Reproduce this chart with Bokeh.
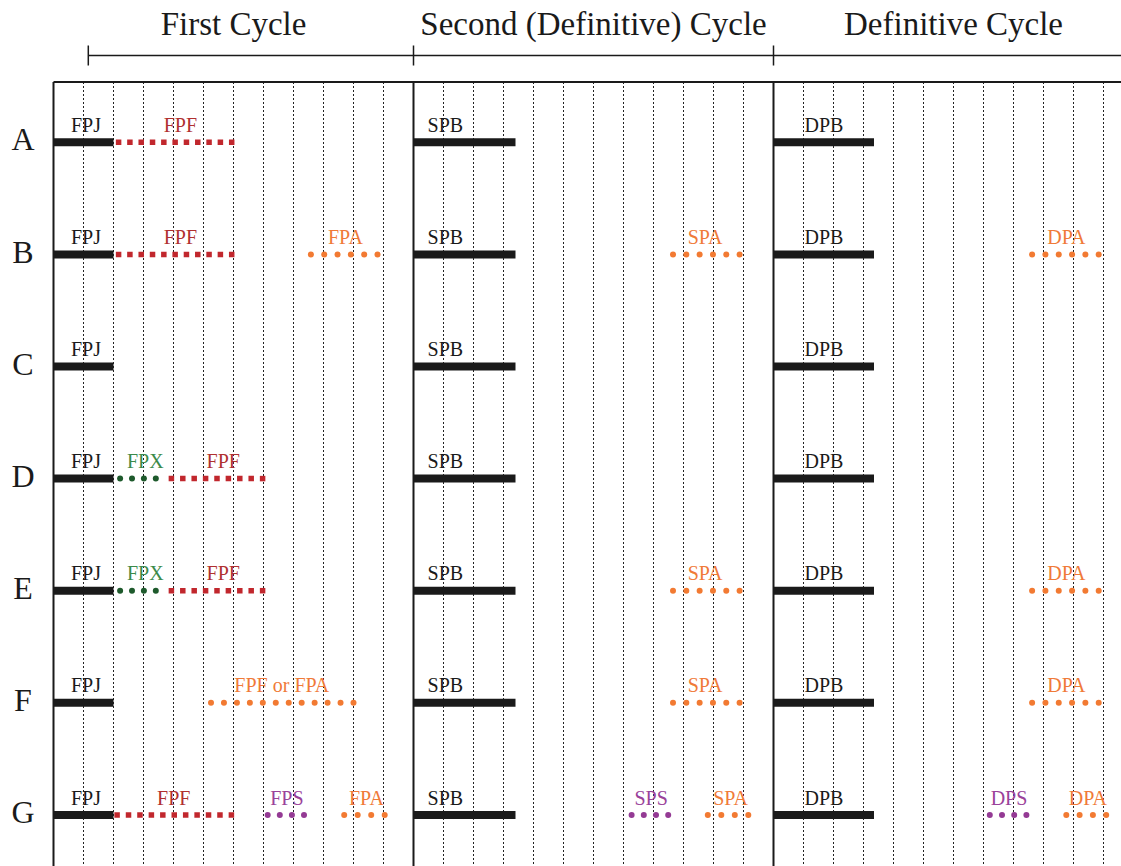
import numpy as np
from bokeh.plotting import figure
from bokeh.models import Range1d
from bokeh.core.properties import value
from bokeh.embed import file_html
from bokeh.resources import INLINE

# ---------------- data ----------------
rows = ["A", "B", "C", "D", "E", "F", "G"]
cycle_titles = ["First Cycle", "Second (Definitive) Cycle", "Definitive Cycle"]
cycle_starts = [0, 12, 24]
cycle_len = 12
bracket_start = 1.16
n_units = 36

# each segment: row index, name, start, end (month units), label centre, kind
seg_row = []
seg_name = []
seg_start = []
seg_end = []
seg_lx = []
seg_kind = []


def add(r, name, s, e, lx, kind):
    seg_row.append(r); seg_name.append(name); seg_start.append(s)
    seg_end.append(e); seg_lx.append(lx); seg_kind.append(kind)


fpj = ("FPJ", 0.0, 2.0, 1.08, "bar")
spb = ("SPB", 12.0, 15.4, 13.06, "bar")
dpb = ("DPB", 24.0, 27.35, 25.68, "bar")
spa = ("SPA", 20.65, 22.87, 21.72, "adult")
dpa = ("DPA", 32.62, 34.84, 33.76, "adult")

# A
for s in (fpj, ("FPF", 2.17, 5.94, 4.23, "fall"), spb, dpb):
    add(0, *s)
# B
for s in (fpj, ("FPF", 2.17, 5.94, 4.23, "fall"), ("FPA", 8.58, 10.80, 9.73, "adult"), spb, spa, dpb, dpa):
    add(1, *s)
# C
for s in (fpj, spb, dpb):
    add(2, *s)
# D
for s in (fpj, ("FPX", 2.22, 3.41, 3.06, "ext"), ("FPF", 3.93, 6.97, 5.66, "fall"), spb, dpb):
    add(3, *s)
# E
for s in (fpj, ("FPX", 2.22, 3.41, 3.06, "ext"), ("FPF", 3.93, 6.97, 5.66, "fall"), spb, spa, dpb, dpa):
    add(4, *s)
# F
for s in (fpj, ("FPF or FPA", 5.25, 10.0, 7.61, "adult"), spb, spa, dpb, dpa):
    add(5, *s)
# G
for s in (fpj, ("FPF", 2.12, 5.93, 4.01, "fall"), ("FPS", 7.14, 8.35, 7.78, "supp"),
          ("FPA", 9.69, 11.04, 10.43, "adult"), spb,
          ("SPS", 19.27, 20.49, 19.92, "supp"), ("SPA", 21.81, 23.16, 22.57, "adult"), dpb,
          ("DPS", 31.21, 32.43, 31.85, "supp"), ("DPA", 33.76, 35.09, 34.48, "adult")):
    add(6, *s)

# ---------------- styles ----------------
BLACK = "#1a1a1a"
mark_color = {"bar": BLACK, "fall": "#c1272d", "ext": "#1e5a2c", "adult": "#f27a32", "supp": "#943a94"}
text_color = {"bar": BLACK, "fall": "#b0302f", "ext": "#3b8a4a", "adult": "#f07a38", "supp": "#9a429a"}
FONT = value("Liberation Serif")

# geometry: page px -> data units (figure drawn from the page origin)
PX_X0, PX_PER_UNIT = 53.0, 30.0
ROW0_PX, ROW_PX = 141.8, 112.1
W, H = 1121, 866


def ypx(px):
    return (px - ROW0_PX) / ROW_PX


def text_y(baseline_px, fs):
    # correction for where the renderer puts an alphabetic baseline
    return ypx(baseline_px - 0.37 * fs)


x_lo = (0 - PX_X0) / PX_PER_UNIT
x_hi = (W - PX_X0) / PX_PER_UNIT
y_top = ypx(0)
y_bot = ypx(H)

p = figure(width=W, height=H, x_range=Range1d(x_lo, x_hi), y_range=Range1d(y_bot, y_top),
           x_axis_type=None, y_axis_type=None, toolbar_location=None,
           output_backend="svg", min_border=0)
p.grid.visible = False
p.outline_line_color = None
p.background_fill_color = "white"
p.border_fill_color = "white"

frame_top = ypx(81.5)

# dotted month grid
gx = [k for k in range(1, n_units) if k % cycle_len != 0]
p.segment(x0=gx, y0=[frame_top] * len(gx), x1=gx, y1=[y_bot] * len(gx),
          line_color="#222222", line_width=1, line_dash="2 2")

# frame: top line, cycle boundaries
p.segment(x0=[0], y0=[frame_top], x1=[x_hi + 1], y1=[frame_top], line_color=BLACK, line_width=2)
p.segment(x0=cycle_starts, y0=[frame_top] * 3, x1=cycle_starts, y1=[y_bot] * 3,
          line_color=BLACK, line_width=2)

# header bracket
hy = ypx(55)
p.segment(x0=[bracket_start], y0=[hy], x1=[x_hi + 1], y1=[hy], line_color=BLACK, line_width=1.5)
tick_x = [bracket_start] + cycle_starts[1:]
p.segment(x0=tick_x, y0=[ypx(45)] * 3, x1=tick_x, y1=[ypx(65)] * 3, line_color=BLACK, line_width=1.5)
p.text(x=[s + cycle_len / 2 for s in cycle_starts], y=[text_y(35.5, 33)] * 3, text=cycle_titles,
       text_font=FONT, text_font_size="33px", text_color=BLACK,
       text_align="center", text_baseline="alphabetic")

# row letters
p.text(x=[(22.5 - PX_X0) / PX_PER_UNIT] * len(rows),
       y=[text_y(ROW0_PX + i * ROW_PX + 9, 32) for i in range(len(rows))],
       text=rows, text_font=FONT, text_font_size="32px", text_color=BLACK,
       text_align="center", text_baseline="alphabetic")

# segments
for r, name, s, e, lx, kind in zip(seg_row, seg_name, seg_start, seg_end, seg_lx, seg_kind):
    c = mark_color[kind]
    if kind == "bar":
        p.segment(x0=[s], y0=[r], x1=[e], y1=[r], line_color=c, line_width=8, line_cap="butt")
    elif kind == "fall":
        n = int(round((e - s) / 0.39)) + 1
        xs = np.linspace(s, e, n)
        p.scatter(x=xs, y=[r] * n, marker="square", size=5.5, fill_color=c, line_color=None)
    else:
        n = int(round((e - s) / 0.435)) + 1
        xs = np.linspace(s, e, n)
        p.scatter(x=xs, y=[r] * n, marker="circle", size=6, fill_color=c, line_color=None)

# segment labels
p.text(x=seg_lx, y=[text_y(ROW0_PX + r * ROW_PX - 10, 20) for r in seg_row], text=seg_name,
       text_font=FONT, text_font_size="20px",
       text_color=[text_color[k] for k in seg_kind],
       text_align="center", text_baseline="alphabetic")

open("out.html", "w").write(file_html(p, INLINE))
